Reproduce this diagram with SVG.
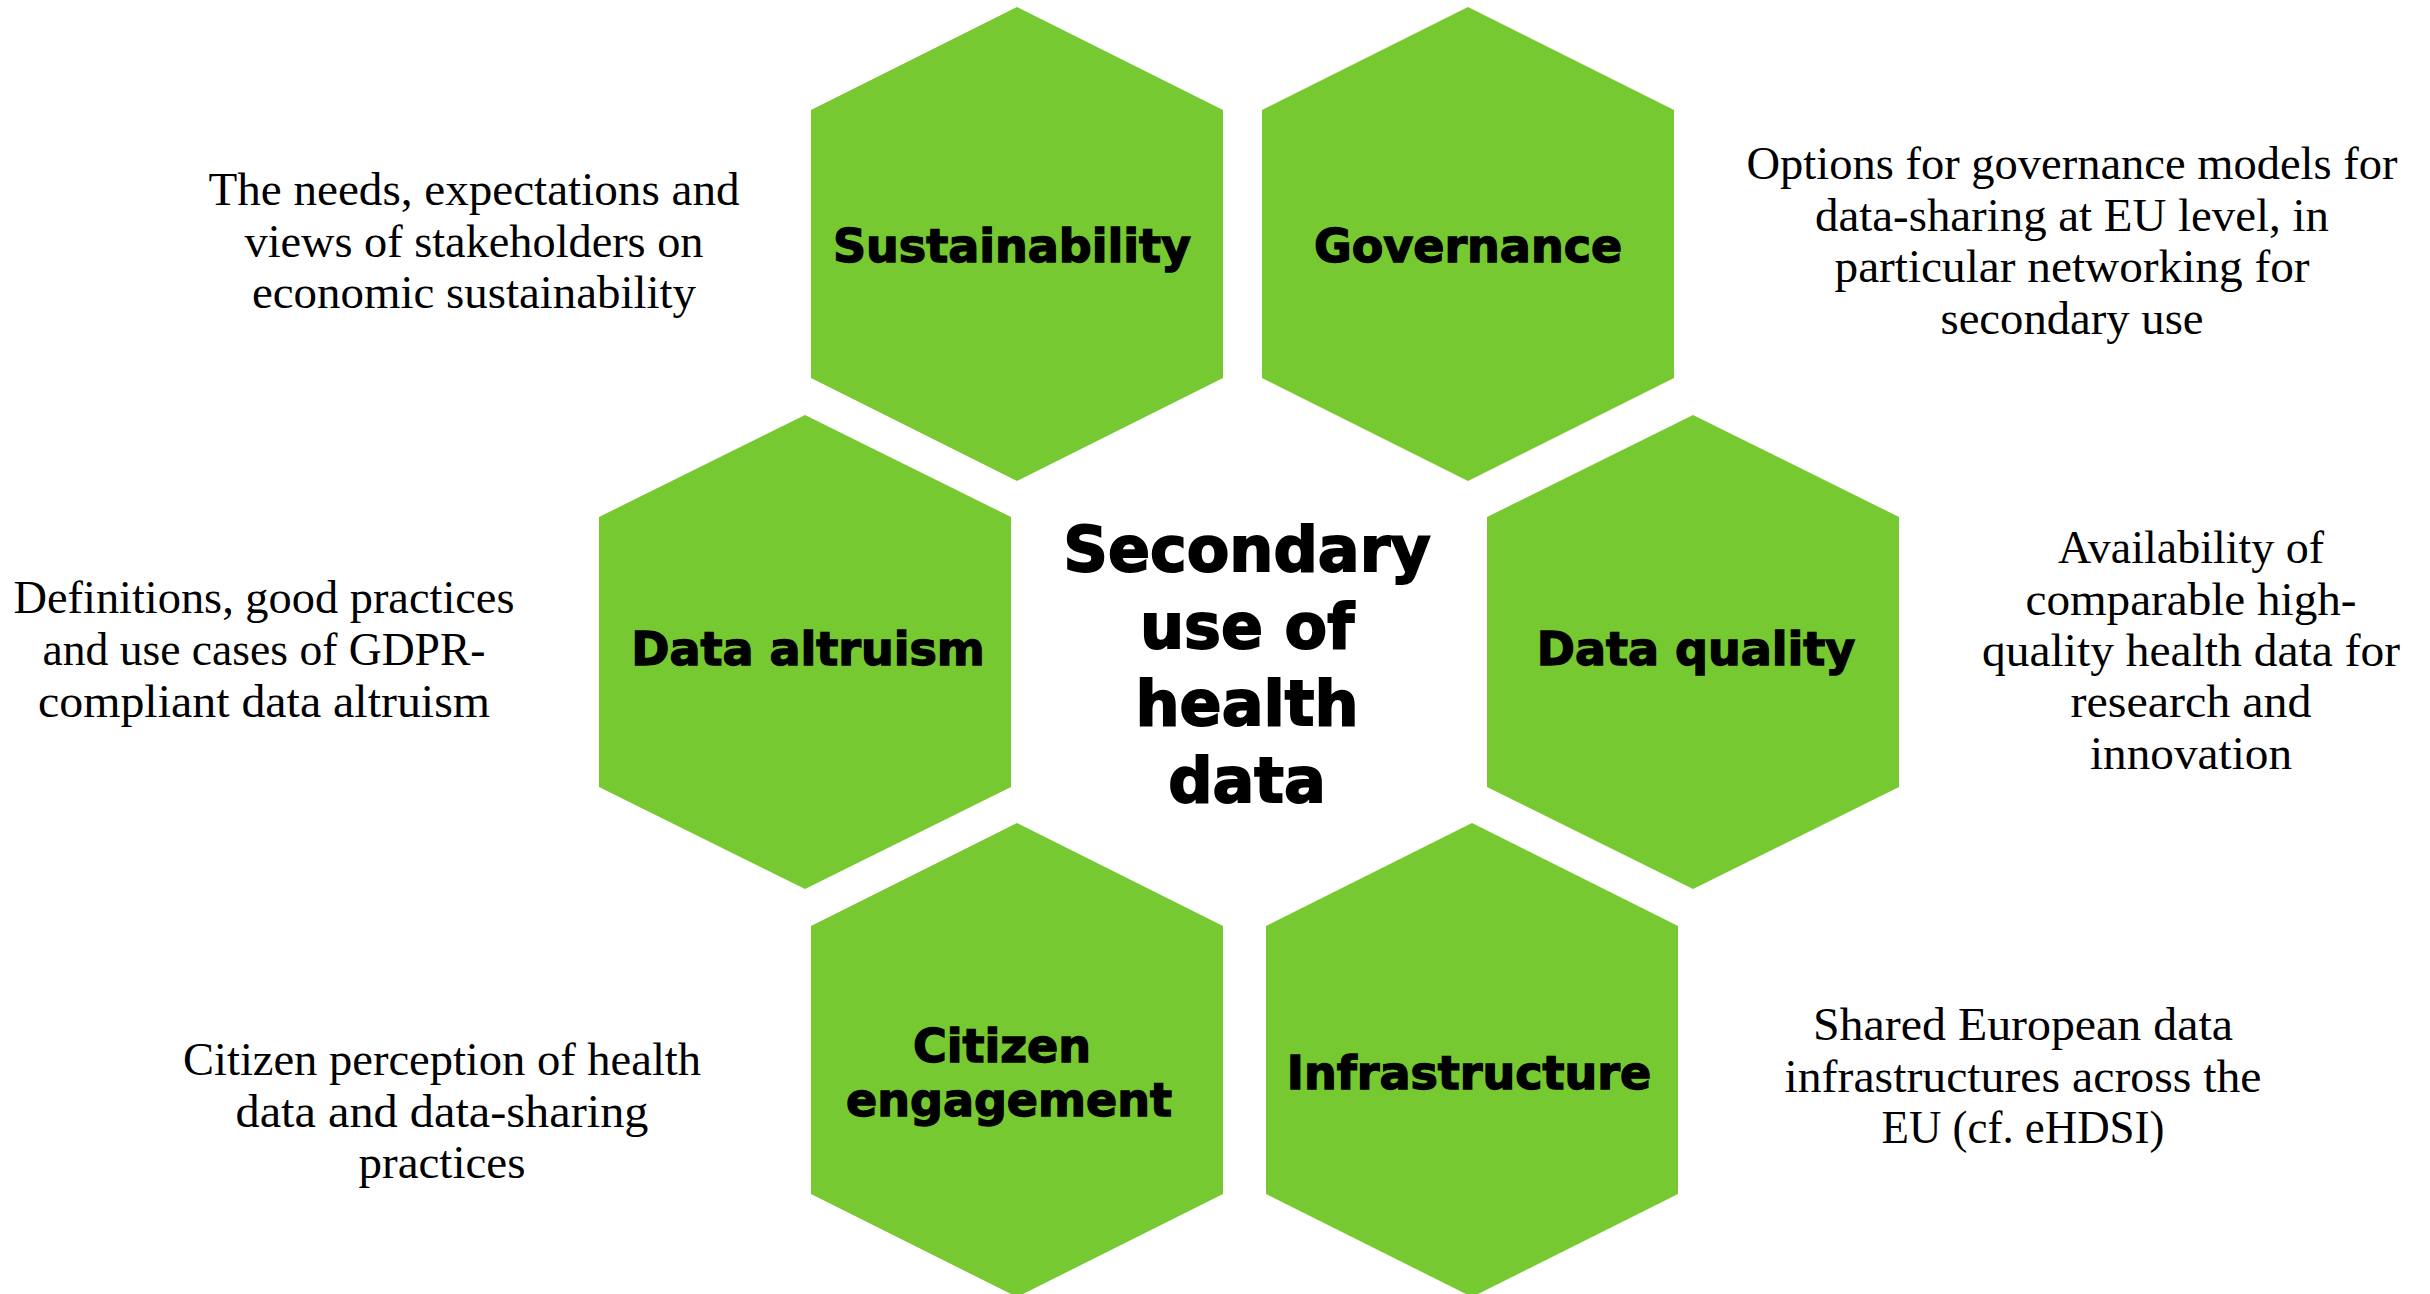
<svg xmlns="http://www.w3.org/2000/svg" width="2430" height="1294" viewBox="0 0 2430 1294">
  <style>
    .hex { fill: #76C931; stroke: none; }
    .lbl { font-family: "DejaVu Sans", "Liberation Sans", sans-serif; font-weight: bold; font-size: 46px; fill: #000; stroke: #000; stroke-width: 1.4px; text-anchor: middle; }
    .ctr { font-family: "DejaVu Sans", "Liberation Sans", sans-serif; font-weight: bold; font-size: 62px; fill: #000; stroke: #000; stroke-width: 1.8px; text-anchor: middle; }
    .desc { font-family: "Liberation Serif", "DejaVu Serif", serif; font-size: 46px; fill: #000; text-anchor: middle; }
  </style>
  <rect x="0" y="0" width="2430" height="1294" fill="#ffffff"/>

  <g id="connectors"></g>

  <g id="center">
    <text class="ctr" x="1247" y="571">Secondary</text>
    <text class="ctr" x="1247" y="648">use of</text>
    <text class="ctr" x="1247" y="725">health</text>
    <text class="ctr" x="1247" y="802">data</text>
  </g>

  <g id="sustainability">
    <polygon class="hex" points="1017,7 1223,110 1223,378 1017,481 811,378 811,110"/>
    <text class="lbl" x="1012" y="262">Sustainability</text>
  </g>

  <g id="governance">
    <polygon class="hex" points="1468,7 1674,110 1674,378 1468,481 1262,378 1262,110"/>
    <text class="lbl" x="1468" y="262">Governance</text>
  </g>

  <g id="data-altruism">
    <polygon class="hex" points="805,415 1011,517 1011,787 805,889 599,787 599,517"/>
    <text class="lbl" x="808" y="665">Data altruism</text>
  </g>

  <g id="data-quality">
    <polygon class="hex" points="1693,415 1899,517 1899,787 1693,889 1487,787 1487,517"/>
    <text class="lbl" x="1696" y="665">Data quality</text>
  </g>

  <g id="citizen-engagement">
    <polygon class="hex" points="1017,823 1223,926 1223,1194 1017,1297 811,1194 811,926"/>
    <text class="lbl" x="1002" y="1062">Citizen</text>
    <text class="lbl" x="1009" y="1116">engagement</text>
  </g>

  <g id="infrastructure">
    <polygon class="hex" points="1472,823 1678,926 1678,1194 1472,1297 1266,1194 1266,926"/>
    <text class="lbl" x="1469" y="1089">Infrastructure</text>
  </g>

  <g id="desc-sustainability">
    <text class="desc" x="474" y="205" textLength="531" lengthAdjust="spacingAndGlyphs">The needs, expectations and</text>
    <text class="desc" x="474" y="257" textLength="459" lengthAdjust="spacingAndGlyphs">views of stakeholders on</text>
    <text class="desc" x="474" y="308" textLength="444" lengthAdjust="spacingAndGlyphs">economic sustainability</text>
  </g>

  <g id="desc-governance">
    <text class="desc" x="2072" y="179" textLength="651" lengthAdjust="spacingAndGlyphs">Options for governance models for</text>
    <text class="desc" x="2072" y="231" textLength="514" lengthAdjust="spacingAndGlyphs">data-sharing at EU level, in</text>
    <text class="desc" x="2072" y="282" textLength="475" lengthAdjust="spacingAndGlyphs">particular networking for</text>
    <text class="desc" x="2072" y="334" textLength="263" lengthAdjust="spacingAndGlyphs">secondary use</text>
  </g>

  <g id="desc-data-altruism">
    <text class="desc" x="264" y="613" textLength="501" lengthAdjust="spacingAndGlyphs">Definitions, good practices</text>
    <text class="desc" x="264" y="665" textLength="443" lengthAdjust="spacingAndGlyphs">and use cases of GDPR-</text>
    <text class="desc" x="264" y="717" textLength="452" lengthAdjust="spacingAndGlyphs">compliant data altruism</text>
  </g>

  <g id="desc-data-quality">
    <text class="desc" x="2191" y="563" textLength="266" lengthAdjust="spacingAndGlyphs">Availability of</text>
    <text class="desc" x="2191" y="615" textLength="331" lengthAdjust="spacingAndGlyphs">comparable high-</text>
    <text class="desc" x="2191" y="666" textLength="418" lengthAdjust="spacingAndGlyphs">quality health data for</text>
    <text class="desc" x="2191" y="717" textLength="241" lengthAdjust="spacingAndGlyphs">research and</text>
    <text class="desc" x="2191" y="769" textLength="202" lengthAdjust="spacingAndGlyphs">innovation</text>
  </g>

  <g id="desc-citizen-engagement">
    <text class="desc" x="442" y="1075" textLength="518" lengthAdjust="spacingAndGlyphs">Citizen perception of health</text>
    <text class="desc" x="442" y="1127" textLength="413" lengthAdjust="spacingAndGlyphs">data and data-sharing</text>
    <text class="desc" x="442" y="1178" textLength="167" lengthAdjust="spacingAndGlyphs">practices</text>
  </g>

  <g id="desc-infrastructure">
    <text class="desc" x="2023" y="1040" textLength="420" lengthAdjust="spacingAndGlyphs">Shared European data</text>
    <text class="desc" x="2023" y="1092" textLength="477" lengthAdjust="spacingAndGlyphs">infrastructures across the</text>
    <text class="desc" x="2023" y="1143" textLength="283" lengthAdjust="spacingAndGlyphs">EU (cf. eHDSI)</text>
  </g>
</svg>
